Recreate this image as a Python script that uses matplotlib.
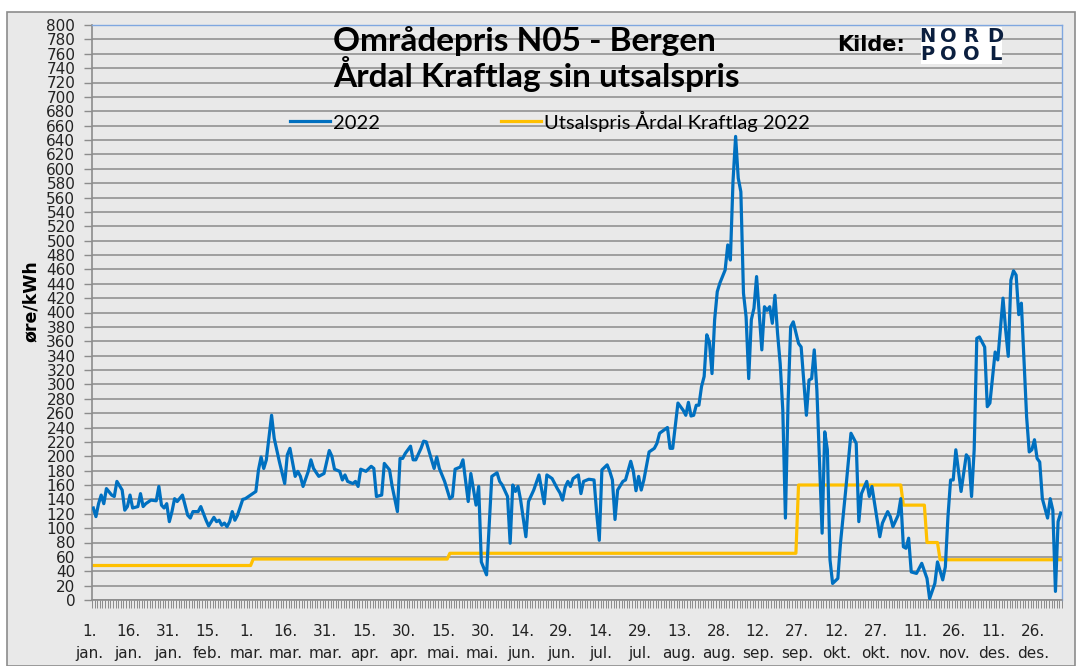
import matplotlib
matplotlib.use("Agg")
import matplotlib.pyplot as plt
from matplotlib.patches import Rectangle
from matplotlib.transforms import ScaledTranslation

# ---------------- data ----------------
price_days = [0, 1, 2, 3, 4, 5, 7, 8, 9, 11, 12, 13, 14, 15, 17, 18, 19, 20, 22, 24, 25, 26, 27, 28, 29,
              30, 31, 32, 34, 36, 37, 38, 40, 41, 43, 44, 46, 47, 48, 49, 50, 51, 52, 53, 54, 55, 57, 58,
              60, 62, 63, 64, 65, 66, 68, 69, 71, 73, 74, 75, 77, 78, 79, 80, 82, 83, 84, 86, 88, 90, 91,
              92, 94, 95, 96, 97, 99, 100, 101, 102, 104, 106, 107, 108, 110, 111, 113, 114, 116, 117, 118,
              119, 121, 122, 123, 125, 126, 127, 129, 130, 131, 132, 134, 136, 137, 138, 140, 141, 143, 144,
              146, 147, 148, 150, 152, 154, 155, 156, 158, 159, 160, 161, 162, 163, 165, 166, 168, 170, 172,
              173, 175, 177, 178, 179, 180, 181, 182, 183, 185, 186, 187, 189, 191, 192, 193, 194, 196, 197,
              198, 199, 200, 202, 203, 205, 206, 207, 208, 209, 210, 212, 214, 215, 216, 219, 220, 221, 223,
              225, 226, 227, 228, 229, 230, 231, 232, 233, 234, 235, 236, 237, 238, 239, 241, 242, 243, 244,
              245, 246, 247, 248, 249, 250, 251, 252, 253, 254, 255, 256, 257, 258, 259, 260, 261, 262, 263,
              264, 265, 266, 267, 269, 270, 272, 273, 274, 275, 276, 278, 279, 280, 281, 282, 284, 285, 287,
              289, 291, 292, 293, 295, 296, 297, 299, 300, 301, 303, 304, 305, 307, 308, 309, 310, 311, 312,
              314, 316, 318, 319, 321, 322, 324, 325, 326, 327, 328, 329, 331, 333, 334, 335, 336, 337, 338,
              340, 341, 342, 344, 345, 347, 348, 349, 350, 351, 352, 353, 354, 356, 357, 358, 359, 360, 361,
              362, 364, 365, 366, 367, 368, 369]
price_2022 = [128, 116, 134, 146, 134, 155, 146, 144, 165, 153, 125, 130, 146, 128, 130, 148, 130, 134, 139,
              138, 158, 132, 128, 134, 109, 123, 141, 137, 146, 118, 114, 123, 123, 130, 111, 103, 115, 109,
              111, 104, 107, 102, 109, 123, 111, 118, 140, 141, 146, 151, 181, 199, 183, 195, 257, 225, 192,
              162, 202, 211, 172, 179, 172, 158, 179, 195, 183, 172, 176, 208, 200, 182, 179, 167, 174, 165,
              162, 165, 158, 182, 179, 186, 183, 144, 146, 190, 181, 158, 123, 197, 197, 204, 214, 195, 195,
              211, 221, 220, 195, 183, 199, 183, 165, 141, 144, 182, 185, 195, 137, 176, 132, 158, 53, 35,
              172, 177, 165, 160, 144, 79, 160, 151, 158, 139, 88, 137, 153, 174, 134, 174, 169, 155, 149,
              139, 157, 165, 158, 169, 174, 148, 165, 168, 167, 121, 83, 181, 188, 179, 167, 112, 153, 165,
              167, 193, 179, 152, 172, 153, 167, 206, 211, 218, 232, 240, 211, 211, 274, 264, 257, 275, 256,
              257, 271, 271, 297, 311, 369, 359, 315, 390, 429, 441, 459, 494, 473, 582, 645, 587, 568, 427,
              394, 308, 390, 406, 450, 399, 348, 408, 403, 408, 385, 424, 371, 329, 264, 114, 274, 380, 387,
              357, 352, 257, 306, 308, 348, 292, 93, 234, 209, 56, 23, 30, 79, 153, 232, 218, 109, 148, 165,
              144, 158, 111, 88, 107, 123, 116, 102, 118, 141, 74, 72, 86, 39, 37, 51, 30, 2, 23, 53, 28, 46,
              116, 167, 167, 209, 151, 202, 197, 144, 209, 364, 366, 352, 269, 274, 345, 334, 420, 376, 339,
              445, 458, 452, 397, 413, 255, 206, 209, 223, 197, 192, 141, 114, 141, 125, 12, 109, 121]

tariff_start_days = [0, 61, 136, 269, 309, 318, 323]
tariff_values = [48, 57, 65, 160, 132, 80, 56]
last_day = 369

day_labels = ["1.", "16.", "31.", "15.", "1.", "16.", "31.", "15.", "30.", "15.", "30.", "14.", "29.",
              "14.", "29.", "13.", "28.", "12.", "27.", "12.", "27.", "11.", "26.", "11.", "26."]
month_labels = ["jan.", "jan.", "jan.", "feb.", "mar.", "mar.", "mar.", "apr.", "apr.", "mai.", "mai.",
                "jun.", "jun.", "jul.", "jul.", "aug.", "aug.", "sep.", "sep.", "okt.", "okt.", "nov.",
                "nov.", "des.", "des."]
label_step = 15

title_text = "Områdepris N05 - Bergen\nÅrdal Kraftlag sin utsalspris"
series_names = ["2022", "Utsalspris Årdal Kraftlag 2022"]
y_label = "øre/kWh"

# ---------------- figure ----------------
W, H = 1080, 666
fig = plt.figure(figsize=(W / 100, H / 100), dpi=100)
fig.patch.set_facecolor("white")
bg = "#E9E9E9"
fig.add_artist(Rectangle((7 / W, 0), (1075 - 7) / W, 1 - 12 / H, transform=fig.transFigure,
                         facecolor=bg, edgecolor="#8C8C8C", linewidth=1.2, zorder=-10))

ax = fig.add_axes([92 / W, 1 - 600 / H, (1062 - 92) / W, (600 - 25) / H])
ax.set_facecolor(bg)

# tariff polyline built from step changes
tx, ty = [], []
for i, (d, v) in enumerate(zip(tariff_start_days, tariff_values)):
    end = tariff_start_days[i + 1] - 1 if i + 1 < len(tariff_start_days) else last_day
    tx += [d, end]
    ty += [v, v]

l1, = ax.plot(price_days, price_2022, color="#0070C0", lw=2.3, solid_joinstyle="round", zorder=3)
l2, = ax.plot(tx, ty, color="#FFC000", lw=2.3, zorder=2)

ax.set_xlim(-0.5, last_day + 0.5)
ax.set_ylim(0, 800)
ax.set_yticks(range(0, 801, 20))
ax.yaxis.grid(True, color="#999999", lw=1.3)
ax.set_axisbelow(True)

ticks = [i * label_step for i in range(len(day_labels))]
ax.set_xticks(ticks)
ax.set_xticklabels([f"{d}\n{m}" for d, m in zip(day_labels, month_labels)], linespacing=1.6)
ax.set_xticks([i - 0.5 for i in range(last_day + 2)], minor=True)
ax.tick_params(axis="x", which="major", length=0, pad=17, labelsize=11, labelcolor="#222222")
ax.tick_params(axis="x", which="minor", length=6, width=0.7, color="#8C8C8C", direction="out")
ax.tick_params(axis="y", length=6, width=1, color="#8C8C8C", pad=6, labelsize=11,
               labelcolor="#222222")
shift = ScaledTranslation(-4 / 100, 0, fig.dpi_scale_trans)
for lab in ax.get_yticklabels():
    lab.set_fontfamily("DejaVu Sans")
for lab in ax.get_xticklabels():
    lab.set_fontfamily("DejaVu Sans")
    lab.set_transform(lab.get_transform() + shift)

for s in ["left", "bottom"]:
    ax.spines[s].set_color("#8C8C8C")
    ax.spines[s].set_linewidth(1.2)
for s in ["top", "right"]:
    ax.spines[s].set_color("#7FA7E0")
    ax.spines[s].set_linewidth(1.0)

fig.text(31 / W, 1 - 301 / H, y_label, rotation=90, ha="center", va="center",
         fontsize=12.5, fontweight="bold", family="DejaVu Sans")

fig.text(333 / W, 1 - 59 / H, title_text, ha="left", va="center", fontsize=24,
         fontweight="bold", family="Lato", linespacing=1.03)

leg = fig.legend([l1, l2], series_names, loc="center left", bbox_to_anchor=(290 / W, 1 - 121 / H),
                 ncol=2, frameon=False, handlelength=2.0, handletextpad=0.15, columnspacing=6.0,
                 borderpad=0, borderaxespad=0, prop={"family": "Lato", "size": 14.5})

fig.text(871 / W, 1 - 45 / H, "Kilde:", ha="center", va="center", fontsize=15,
         family="DejaVu Sans", fontweight="bold", color="black")
fig.add_artist(Rectangle((921 / W, 1 - 64 / H), 81 / W, 37 / H, transform=fig.transFigure,
                         facecolor="white", edgecolor="none"))
for row, word, yc in [(0, "NORD", 36), (1, "POOL", 55)]:
    for k, ch in enumerate(word):
        xc = [927, 948, 971, 995][k]
        fig.text(xc / W, 1 - yc / H, ch, ha="center", va="center", fontsize=14,
                 fontweight="bold", family="DejaVu Sans", color="#0B1F3F")

fig.savefig("out.png", dpi=100, facecolor=fig.get_facecolor())
